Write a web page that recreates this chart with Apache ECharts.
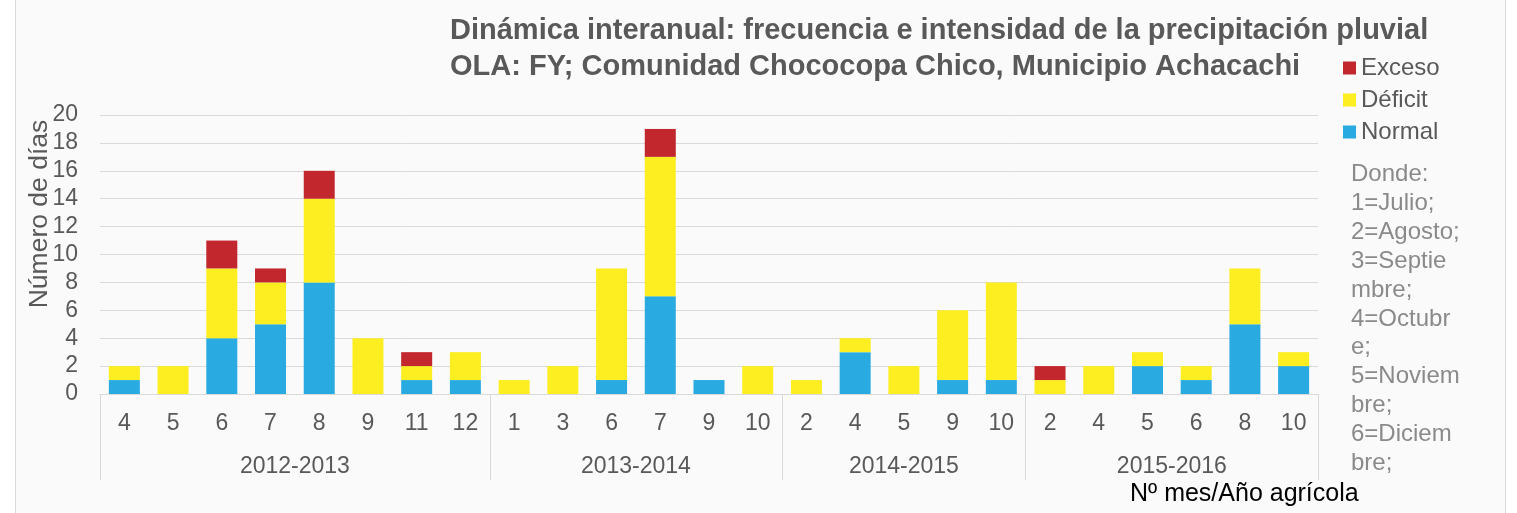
<!DOCTYPE html>
<html>
<head>
<meta charset="utf-8">
<script src="https://cdn.jsdelivr.net/npm/echarts@6/dist/echarts.min.js"></script>
<style>
  body { margin: 0; background: #ffffff; }
  #frame { position: absolute; left: 15px; top: -1px; width: 1489px; height: 530px;
           border: 1px solid #d9d9d9; background: #fafafa; }
  #chart { position: absolute; left: 0; top: 0; width: 1517px; height: 513px; }
</style>
</head>
<body>
<div id="frame"></div>
<div id="chart"></div>
<script>
// months (Nº mes) per agricultural year
var months = ["4", "5", "6", "7", "8", "9", "11", "12",
              "1", "3", "6", "7", "9", "10",
              "2", "4", "5", "9", "10",
              "2", "4", "5", "6", "8", "10"];
var groups = ["2012-2013", "2013-2014", "2014-2015", "2015-2016"];
var groupSizes = [8, 6, 5, 6];

// days per class
var normal  = [1, 0, 4, 5, 8, 0, 1, 1,   0, 0, 1, 7, 1, 0,   0, 3, 0, 1, 1,   0, 0, 2, 1, 5, 2];
var deficit = [1, 2, 5, 3, 6, 4, 1, 2,   1, 2, 8, 10, 0, 2,  1, 1, 2, 5, 7,   1, 2, 1, 1, 4, 1];
var exceso  = [0, 0, 2, 1, 2, 0, 1, 0,   0, 0, 0, 2, 0, 0,   0, 0, 0, 0, 0,   1, 0, 0, 0, 0, 0];

var yTicks = [0, 2, 4, 6, 8, 10, 12, 14, 16, 18, 20];

var nota = "Donde:\n1=Julio;\n2=Agosto;\n3=Septie\nmbre;\n4=Octubr\ne;\n5=Noviem\nbre;\n6=Diciem\nbre;";

// group boundaries and centres for the second (group) axis
var bounds = [0], centres = [];
for (var i = 0; i < groupSizes.length; i++) {
    var start = bounds[bounds.length - 1];
    bounds.push(start + groupSizes[i]);
    centres.push(start + groupSizes[i] / 2);
}

var grey = "#595959";
var font = "Liberation Sans, Arial, sans-serif";

var myChart = echarts.init(document.getElementById("chart"));
var option = {
    animation: false,
    textStyle: { fontFamily: font },
    title: {
        text: "Dinámica interanual: frecuencia e intensidad de la precipitación pluvial\nOLA: FY; Comunidad Chococopa Chico, Municipio Achacachi",
        left: 445,
        top: 8,
        textStyle: { fontSize: 29, fontWeight: "bold", color: grey, lineHeight: 36, fontFamily: font }
    },
    legend: {
        orient: "vertical",
        left: 1338,
        top: 51,
        itemWidth: 13,
        itemHeight: 13,
        itemGap: 8,
        icon: "rect",
        data: ["Exceso", "Déficit", "Normal"],
        textStyle: { fontSize: 24, color: grey }
    },
    grid: { left: 100, right: 199, top: 115, bottom: 119 },
    xAxis: [
        {
            type: "category",
            data: months,
            axisLine: { lineStyle: { color: "#d9d9d9" } },
            axisTick: { show: false },
            axisLabel: { color: grey, fontSize: 23, margin: 18 }
        },
        {
            type: "value",
            min: 0,
            max: months.length,
            position: "bottom",
            axisLine: { show: false },
            splitLine: { show: false },
            axisTick: {
                show: true,
                length: 86,
                customValues: bounds,
                lineStyle: { color: "#d9d9d9" }
            },
            axisLabel: {
                color: grey,
                fontSize: 23,
                margin: 61,
                customValues: centres,
                formatter: function (v) {
                    var k = centres.indexOf(v);
                    return k >= 0 ? groups[k] : "";
                }
            }
        }
    ],
    yAxis: {
        type: "value",
        min: yTicks[0],
        max: yTicks[yTicks.length - 1],
        interval: 2,
        axisLine: { show: false },
        axisTick: { show: false },
        axisLabel: { color: grey, fontSize: 23, margin: 22 },
        splitLine: { lineStyle: { color: "#d9d9d9" } }
    },
    graphic: [
        {
            type: "text",
            x: 40, y: 214,
            rotation: Math.PI / 2,
            style: { text: "Número de días", fontSize: 26.5, fill: grey, fontFamily: font,
                     align: "center", verticalAlign: "middle" }
        },
        {
            type: "text",
            left: 1351, top: 160,
            style: { text: nota, fontSize: 24, fill: "#8a8a8a", fontFamily: font, lineHeight: 28.9 }
        },
        {
            type: "text",
            left: 1130, top: 482,
            style: { text: "Nº mes/Año agrícola", fontSize: 25, fill: "#000000", fontFamily: font }
        }
    ],
    series: [
        { name: "Normal", type: "bar", stack: "d", data: normal, barWidth: 31,
          itemStyle: { color: "#29abe2" } },
        { name: "Déficit", type: "bar", stack: "d", data: deficit, barWidth: 31,
          itemStyle: { color: "#fcee21" } },
        { name: "Exceso", type: "bar", stack: "d", data: exceso, barWidth: 31,
          itemStyle: { color: "#c1272d" } }
    ]
};
myChart.setOption(option);
</script>
</body>
</html>
